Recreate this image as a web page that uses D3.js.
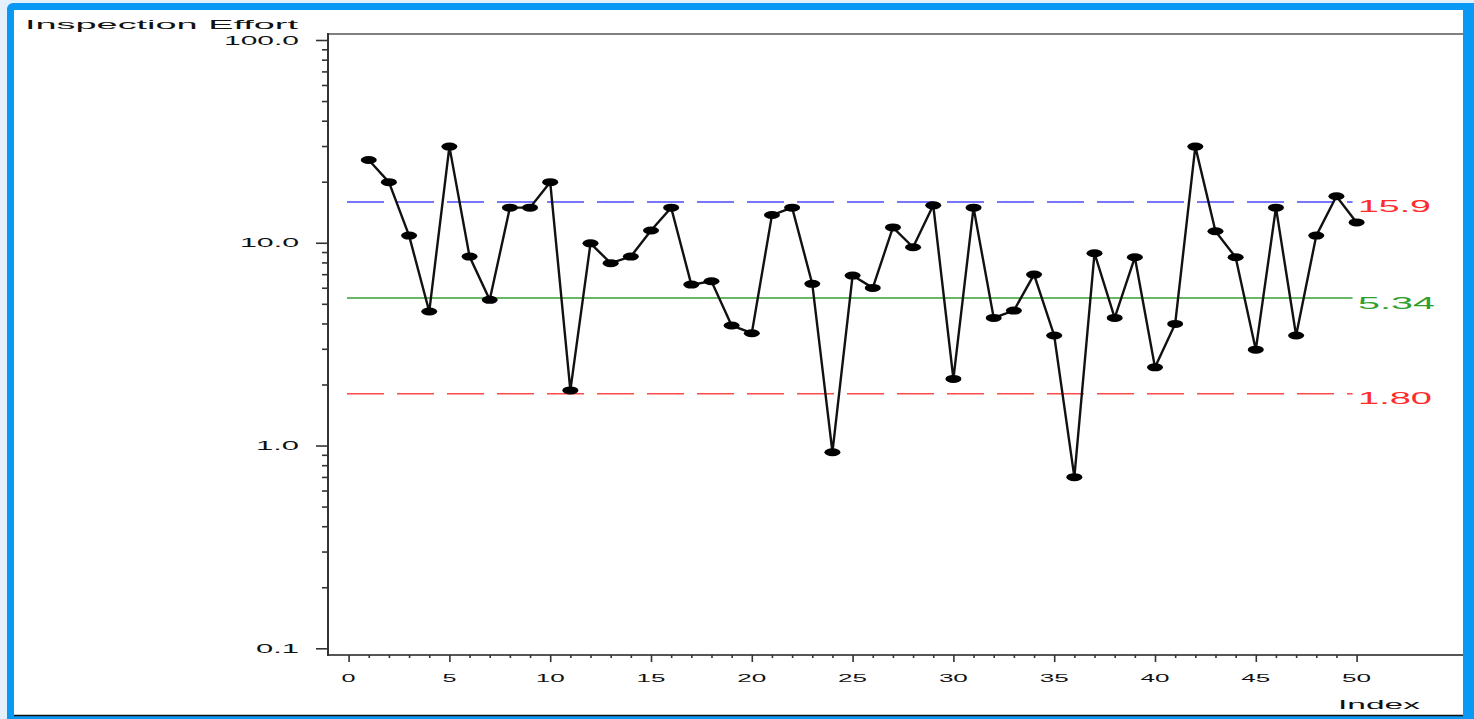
<!DOCTYPE html>
<html>
<head>
<meta charset="utf-8">
<script src="https://cdn.jsdelivr.net/npm/d3@7"></script>
<style>
  html, body { margin: 0; padding: 0; background: #e4f1fc; }
  svg { display: block; }
</style>
</head>
<body>
<svg id="chart" width="1474" height="719"></svg>
<script>
// Inspection effort per sample (log-scale individuals chart)
const sampleIndex = d3.range(1, 51);
const inspectionEffort = [
  25.6, 19.9, 10.85, 4.58, 29.8, 8.55, 5.23, 14.9, 14.9, 19.9,
  1.87, 9.94, 7.93, 8.55, 11.5, 14.9, 6.22, 6.46, 3.91, 3.58,
  13.7, 14.9, 6.27, 0.927, 6.89, 5.99, 11.9, 9.50, 15.3, 2.13,
  14.9, 4.26, 4.63, 6.97, 3.49, 0.698, 8.88, 4.26, 8.48, 2.43,
  3.98, 29.8, 11.4, 8.48, 2.97, 14.9, 3.49, 10.85, 16.96, 12.6
];

// Control limits and centre line
const limitNames = ["ucl", "center", "lcl"];
const limitValues = [15.9, 5.34, 1.80];
const limitLabels = ["15.9", "5.34", "1.80"];

// Axis ticks
const yMajorTicks = [0.1, 1, 10, 100];
const xMajorTicks = [0, 5, 10, 15, 20, 25, 30, 35, 40, 45, 50];

const svg = d3.select("#chart");

// Slide frame
svg.append("rect").attr("x", 7).attr("y", 3).attr("width", 1480).attr("height", 730)
  .attr("rx", 6).attr("fill", "#0a98f5");
svg.append("rect").attr("x", 14).attr("y", 10).attr("width", 1449).attr("height", 706)
  .attr("fill", "#ffffff");
svg.append("line").attr("x1", 14).attr("x2", 1463).attr("y1", 715.5).attr("y2", 715.5)
  .attr("stroke", "#111").attr("stroke-width", 1.5);

const x = d3.scaleLinear().domain([0, 50]).range([348.6, 1356.6]);
const y = d3.scaleLog().domain([0.1, 100]).range([648.3, 40]);

const font = "'Liberation Sans', Arial, sans-serif";
const axisLeftX = 328;
const plotTop = 34;
const plotBottom = 655;
const plotRight = 1463;

// Stretched-glyph text helper
function wideText(g, str, px, py, len, size, anchor, color) {
  return g.append("text")
    .attr("x", px).attr("y", py)
    .attr("text-anchor", anchor)
    .attr("font-family", font)
    .attr("font-size", size)
    .attr("fill", color)
    .attr("textLength", len)
    .attr("lengthAdjust", "spacingAndGlyphs")
    .text(str);
}

// Frame lines
svg.append("line").attr("x1", axisLeftX).attr("x2", plotRight).attr("y1", plotTop).attr("y2", plotTop)
  .attr("stroke", "#808080").attr("stroke-width", 2);
svg.append("line").attr("x1", axisLeftX).attr("x2", plotRight).attr("y1", plotBottom).attr("y2", plotBottom)
  .attr("stroke", "#555").attr("stroke-width", 2);
svg.append("line").attr("x1", axisLeftX).attr("x2", axisLeftX).attr("y1", plotTop - 1).attr("y2", plotBottom + 1)
  .attr("stroke", "#333").attr("stroke-width", 2);

// Y axis: decade ticks with labels, minor ticks between
const yMinor = [];
[0.1, 1, 10].forEach(d => { for (let k = 2; k <= 9; k++) yMinor.push(+(d * k).toPrecision(3)); });

const yAxisMajor = svg.append("g").attr("transform", `translate(${axisLeftX},0)`)
  .call(d3.axisLeft(y).tickValues(yMajorTicks).tickSize(12).tickFormat(d3.format(".1f")));
yAxisMajor.select(".domain").remove();
yAxisMajor.selectAll("line").attr("stroke", "#333").attr("stroke-width", 1.6);
yAxisMajor.selectAll("text").remove();

const yAxisMinor = svg.append("g").attr("transform", `translate(${axisLeftX},0)`)
  .call(d3.axisLeft(y).tickValues(yMinor).tickSize(6).tickFormat(""));
yAxisMinor.select(".domain").remove();
yAxisMinor.selectAll("line").attr("stroke", "#333").attr("stroke-width", 1.6);

const fmtY = d3.format(".1f");
yMajorTicks.forEach(v => {
  const s = fmtY(v);
  const len = s.replace(".", "").length * 16 + 11;
  wideText(svg, s, 299, y(v) + 4.5, len, 12, "end", "#111");
});

// X axis: labelled ticks every 5, minor ticks each index
const xMinor = d3.range(0, 51).filter(d => d % 5 !== 0);
const xAxisMajor = svg.append("g").attr("transform", `translate(0,${plotBottom})`)
  .call(d3.axisBottom(x).tickValues(xMajorTicks).tickSize(7));
xAxisMajor.select(".domain").remove();
xAxisMajor.selectAll("line").attr("stroke", "#333").attr("stroke-width", 1.6);
xAxisMajor.selectAll("text").remove();
const xAxisMinor = svg.append("g").attr("transform", `translate(0,${plotBottom})`)
  .call(d3.axisBottom(x).tickValues(xMinor).tickSize(3).tickFormat(""));
xAxisMinor.select(".domain").remove();
xAxisMinor.selectAll("line").attr("stroke", "#333").attr("stroke-width", 1.6);

xMajorTicks.forEach(v => {
  const s = String(v);
  wideText(svg, s, x(v), 681.5, s.length * 15 - 1, 11.5, "middle", "#111");
});

// Axis titles
wideText(svg, "Inspection Effort", 25, 29, 273, 13, "start", "#111");
wideText(svg, "Index", 1338, 709, 82, 12.5, "start", "#111");

// Control lines
const limitStyle = {
  ucl: { stroke: "#4a4aff", dash: "37,13", width: 1.6, text: "#ff2a2a" },
  center: { stroke: "#66b866", dash: null, width: 2, text: "#2ea02e" },
  lcl: { stroke: "#ff4a4a", dash: "37,13", width: 1.6, text: "#ff2a2a" }
};
const limitTextLen = [73, 77, 74];
limitNames.forEach((name, i) => {
  const st = limitStyle[name];
  const yy = y(limitValues[i]);
  svg.append("line")
    .attr("x1", 347).attr("x2", x(49.8))
    .attr("y1", yy).attr("y2", yy)
    .attr("stroke", st.stroke).attr("stroke-width", st.width)
    .attr("stroke-dasharray", st.dash);
  wideText(svg, limitLabels[i], 1358, yy + 10.5, limitTextLen[i], 16.5, "start", st.text);
});

// Series line and markers
const line = d3.line()
  .x((d, i) => x(sampleIndex[i]))
  .y(d => y(d));
svg.append("path")
  .datum(inspectionEffort)
  .attr("d", line)
  .attr("fill", "none")
  .attr("stroke", "#111")
  .attr("stroke-width", 2.4);

svg.append("g").selectAll("ellipse")
  .data(inspectionEffort)
  .join("ellipse")
  .attr("cx", (d, i) => x(sampleIndex[i]))
  .attr("cy", d => y(d))
  .attr("rx", 8)
  .attr("ry", 4)
  .attr("fill", "#000");
</script>
</body>
</html>
